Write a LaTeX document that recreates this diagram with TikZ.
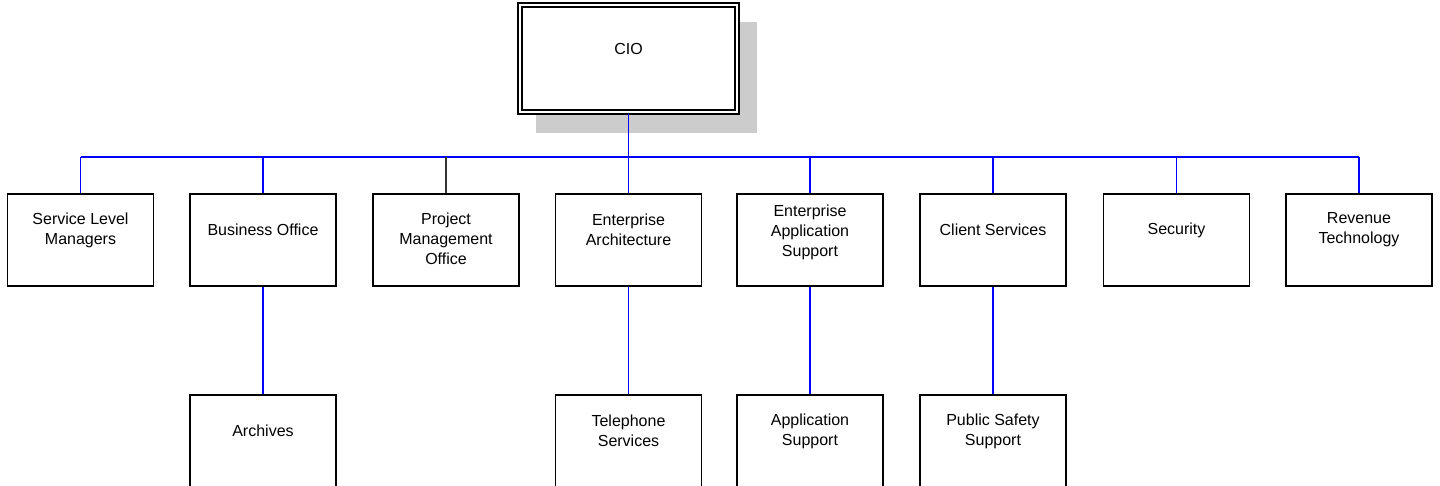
\documentclass[tikz,border=0pt]{standalone}
\usepackage{fontspec}
\setmainfont{Liberation Sans}
\usetikzlibrary{calc}

\definecolor{shadowgray}{HTML}{CCCCCC}
\definecolor{linkblue}{HTML}{0000FF}

\begin{document}
\begin{tikzpicture}[x=0.5pt,y=-0.5pt,
  unit/.style={draw, line width=0.6pt, fill=white, minimum width=73pt, minimum height=46pt, inner sep=0pt},
  caption/.style={align=center, font=\fontsize{8}{10}\selectfont, inner sep=0pt},
  link/.style={linkblue, line width=0.65pt}]
  \useasboundingbox (0,0) rectangle (1440,486);

  % Head box with shadow
  \fill[shadowgray] (536,22) rectangle (757,133);
  \node[draw, double, double distance=1.4pt, line width=0.6pt, fill=white,
        minimum width=108.5pt, minimum height=53.5pt] (cio) at (628.5,58.5) {};
  \node[caption] (ciot) at ([yshift=5pt]cio.center) {CIO};

  % First level
  \node[unit] (slm) at (80.5,240) {};
  \node[unit] (bo)  at (263,240) {};
  \node[unit] (pmo) at (446,240) {};
  \node[unit] (ea)  at (628.5,240) {};
  \node[unit] (eas) at (810,240) {};
  \node[unit] (cs)  at (993,240) {};
  \node[unit] (sec) at (1176.5,240) {};
  \node[unit] (rt)  at (1359,240) {};

  \node[caption] (slmt) at ([yshift=5pt]slm.center) {Service Level\\Managers};
  \node[caption] (bot)  at ([yshift=5pt]bo.center)  {Business Office};
  \node[caption] (pmot) at ([yshift=0.5pt]pmo.center) {Project\\Management\\Office};
  \node[caption] (eat)  at ([yshift=5pt]ea.center)  {Enterprise\\Architecture};
  \node[caption] (east) at ([yshift=4pt]eas.center) {Enterprise\\Application\\Support};
  \node[caption] (cst)  at ([yshift=5pt]cs.center)  {Client Services};
  \node[caption] (sect) at ([yshift=5pt]sec.center) {Security};
  \node[caption] (rtt)  at ([yshift=5pt]rt.center)  {Revenue\\Technology};

  % Second level
  \node[unit] (arc) at (263,441) {};
  \node[unit] (tel) at (628.5,441) {};
  \node[unit] (aps) at (810,441) {};
  \node[unit] (pss) at (993,441) {};

  \node[caption] (arct) at ([yshift=5pt]arc.center) {Archives};
  \node[caption] (telt) at ([yshift=5pt]tel.center) {Telephone\\Services};
  \node[caption] (apst) at ([yshift=5pt]aps.center) {Application\\Support};
  \node[caption] (psst) at ([yshift=5pt]pss.center) {Public Safety\\Support};

  % Connectors
  \coordinate (bus) at (628.5,157);
  \draw[link] (cio.south) -- (bus);
  \draw[link] (bus -| slm.north) -- (bus -| rt.north);
  \draw[link] (bus -| slm.north) -- (slm.north);
  \draw[link] (bus -| bo.north) -- (bo.north);
  \draw[black!80, line width=0.65pt] (bus -| pmo.north) -- (pmo.north);
  \draw[link] (bus -| ea.north) -- (ea.north);
  \draw[link] (bus -| eas.north) -- (eas.north);
  \draw[link] (bus -| cs.north) -- (cs.north);
  \draw[link] (bus -| sec.north) -- (sec.north);
  \draw[link] (bus -| rt.north) -- (rt.north);

  \draw[link] (bo.south) -- (arc.north);
  \draw[link] (ea.south) -- (tel.north);
  \draw[link] (eas.south) -- (aps.north);
  \draw[link] (cs.south) -- (pss.north);
\end{tikzpicture}
\end{document}
